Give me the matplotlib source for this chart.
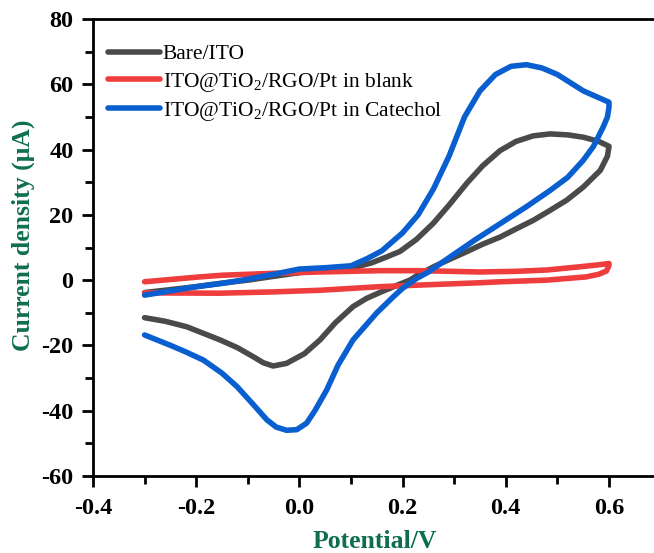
import matplotlib
matplotlib.use("Agg")
import matplotlib.pyplot as plt
from matplotlib.ticker import MultipleLocator

# Bare/ITO
bare_fwd_x = [-0.3, -0.2, -0.154, -0.1, -0.057, 0.0, 0.05, 0.104, 0.14, 0.169, 0.195, 0.227, 0.26, 0.29,
              0.324, 0.355, 0.389, 0.42, 0.453, 0.486, 0.52, 0.55, 0.58, 0.6]
bare_fwd_y = [-3.8, -2.0, -1.0, 0.0, 1.0, 2.3, 3.0, 3.8, 5.3, 7.1, 8.8, 12.5, 17.5, 23.0,
              29.6, 35.0, 39.7, 42.5, 44.2, 44.8, 44.5, 43.8, 42.5, 41.0]
bare_rev_x = [0.6, 0.597, 0.583, 0.55, 0.518, 0.485, 0.453, 0.42, 0.389, 0.355, 0.324, 0.29, 0.26, 0.23,
              0.214, 0.195, 0.16, 0.13, 0.104, 0.07, 0.04, 0.01, -0.025, -0.051, -0.07, -0.09, -0.12,
              -0.154, -0.218, -0.26, -0.3]
bare_rev_y = [41.0, 38.0, 33.6, 28.5, 24.5, 21.3, 18.3, 15.7, 13.2, 11.0, 8.7, 6.3, 4.1, 1.6,
              0.0, -1.2, -3.5, -5.6, -8.1, -13.0, -18.3, -22.5, -25.5, -26.3, -25.3, -23.4, -20.7,
              -18.3, -14.3, -12.6, -11.5]

# ITO@TiO2/RGO/Pt in blank
blank_fwd_x = [-0.3, -0.2, -0.15, -0.05, 0.04, 0.156, 0.234, 0.35, 0.42, 0.479, 0.544, 0.58, 0.6]
blank_fwd_y = [-0.5, 0.9, 1.5, 2.1, 2.5, 2.9, 2.9, 2.5, 2.7, 3.1, 4.1, 4.7, 5.1]
blank_rev_x = [0.6, 0.595, 0.58, 0.556, 0.479, 0.389, 0.35, 0.234, 0.156, 0.04, -0.05, -0.154, -0.3]
blank_rev_y = [4.5, 2.8, 1.8, 1.0, 0.0, -0.5, -0.8, -1.5, -2.0, -3.1, -3.6, -4.0, -3.9]

# ITO@TiO2/RGO/Pt in Catechol
cat_fwd_x = [-0.3, -0.2, -0.15, -0.1, -0.05, 0.0, 0.05, 0.1, 0.13, 0.16, 0.2, 0.23, 0.26, 0.29,
             0.32, 0.35, 0.38, 0.41, 0.44, 0.47, 0.5, 0.55, 0.6]
cat_fwd_y = [-4.6, -2.0, -1.0, 0.3, 1.8, 3.4, 3.8, 4.4, 6.5, 9.0, 14.5, 20.0, 28.0, 38.0,
             50.0, 58.0, 63.0, 65.5, 66.0, 65.0, 63.0, 58.0, 54.5]
cat_rev_x = [0.6, 0.597, 0.589, 0.57, 0.55, 0.52, 0.486, 0.44, 0.389, 0.34, 0.292, 0.25, 0.227, 0.2,
             0.182, 0.15, 0.104, 0.075, 0.053, 0.03, 0.014, -0.005, -0.025, -0.045, -0.063, -0.09,
             -0.121, -0.15, -0.186, -0.22, -0.251, -0.3]
cat_rev_y = [53.0, 50.0, 47.0, 41.0, 36.7, 31.5, 27.5, 22.5, 17.3, 12.3, 7.1, 2.5, 0.5, -2.5,
             -5.1, -10.0, -18.3, -26.0, -33.6, -40.0, -43.8, -45.8, -46.0, -45.0, -42.8, -38.0,
             -32.6, -28.5, -24.5, -22.0, -19.9, -16.8]

xticks = [-0.4, -0.2, 0.0, 0.2, 0.4, 0.6]
xtick_labels = ["-0.4", "-0.2", "0.0", "0.2", "0.4", "0.6"]
yticks = [-60, -40, -20, 0, 20, 40, 60, 80]

plt.rcParams['font.family'] = ['Liberation Serif', 'DejaVu Serif']
plt.rcParams['mathtext.fontset'] = 'custom'
plt.rcParams['mathtext.rm'] = 'Liberation Serif'

fig = plt.figure(figsize=(6.54, 5.53), dpi=100)
W, H = 654, 553
# axes box in pixels; right edge runs past the figure (cropped like the original)
x0, x1, ytop, ybot = 93, 93 + 1.1 * 516, 19, 476
ax = fig.add_axes([x0 / W, (H - ybot) / H, (x1 - x0) / W, (ybot - ytop) / H])

series = [
    ("Bare/ITO", bare_fwd_x + bare_rev_x, bare_fwd_y + bare_rev_y, "#4a4a4a"),
    ("ITO@TiO$_2$/RGO/Pt in blank", blank_fwd_x + blank_rev_x, blank_fwd_y + blank_rev_y, "#ef3c3c"),
    ("ITO@TiO$_2$/RGO/Pt in Catechol", cat_fwd_x + cat_rev_x, cat_fwd_y + cat_rev_y, "#0a5fd0"),
]
for lab, xs, ys, c in series:
    ax.plot(xs, ys, color=c, lw=4, label=lab, solid_joinstyle='round', solid_capstyle='round')

ax.set_xlim(-0.4, 0.7)
ax.set_ylim(-60, 80)
ax.set_xticks(xticks)
ax.set_xticklabels(xtick_labels)
ax.set_yticks(yticks)
ax.set_yticklabels([str(v) for v in yticks])
ax.xaxis.set_minor_locator(MultipleLocator(0.1))
ax.yaxis.set_minor_locator(MultipleLocator(10))
ax.tick_params(which='major', direction='out', length=8, width=2, labelsize=17.5)
ax.tick_params(axis='x', which='major', pad=8)
ax.tick_params(axis='y', which='major', pad=6)
ax.tick_params(which='minor', direction='out', length=6, width=2)
for lbl in ax.get_xticklabels() + ax.get_yticklabels():
    lbl.set_fontweight('bold')
for s in ['left', 'bottom', 'top']:
    ax.spines[s].set_linewidth(2)
ax.spines['right'].set_visible(False)

green = "#0e6e4f"
ax.set_xlabel("Potential/V", fontsize=18.5, fontweight='bold', color=green, va='center')
ax.set_ylabel("Current density (μA)", fontsize=18.5, fontweight='bold', color=green, va='center')
ax.xaxis.set_label_coords((375 - x0) / (x1 - x0), (ybot - 542) / (ybot - ytop))
ax.yaxis.set_label_coords((23 - x0) / (x1 - x0), (ybot - 235) / (ybot - ytop))

ax.legend(loc='upper left', bbox_to_anchor=((108 - x0) / (x1 - x0), (ybot - 44) / (ybot - ytop)),
          frameon=False, fontsize=15.5, handlelength=2.4, handletextpad=0.15,
          labelspacing=0.3, borderaxespad=0, borderpad=0)

fig.savefig("out.png", dpi=100)
